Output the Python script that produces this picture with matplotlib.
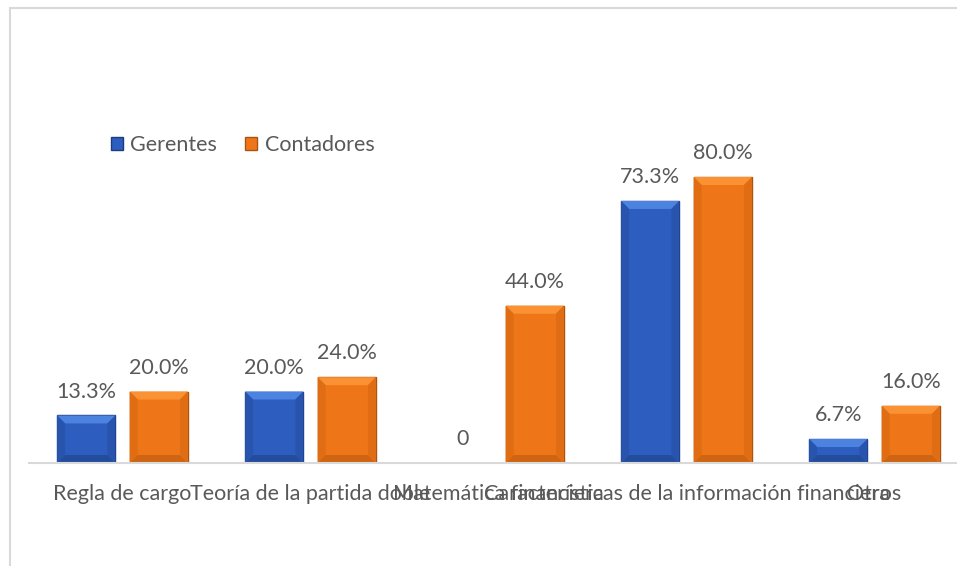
import numpy as np
import matplotlib
matplotlib.use('Agg')
import matplotlib.pyplot as plt
from matplotlib.patches import Rectangle, Polygon

plt.rcParams['font.family'] = ['Lato', 'DejaVu Sans']

# datos
categorias = ['Regla de cargo', 'Teoría de la partida doble', 'Matemática financiera',
              'Características de la información financiera', 'Otros']
gerentes = [13.3, 20.0, 0.0, 73.3, 6.7]
contadores = [20.0, 24.0, 44.0, 80.0, 16.0]
etiquetas_gerentes = ['13.3%', '20.0%', '0', '73.3%', '6.7%']
etiquetas_contadores = ['20.0%', '24.0%', '44.0%', '80.0%', '16.0%']

W, H = 957, 566
fig = plt.figure(figsize=(W / 100, H / 100), dpi=100)

# marco gris del grafico
fig.patches.append(Rectangle((10 / W, -0.1), 1.2, 1 - 8 / H + 0.1, transform=fig.transFigure,
                             fill=False, edgecolor='#d9d9d9', linewidth=1.5))

ax = fig.add_axes([28.5 / W, 103 / H, 1 - 28.5 / W, 1 - 103 / H - 40 / H])
paso = 188.0
px_y = 3.575  # pixeles por punto porcentual
ax.set_xlim(-0.5, -0.5 + (W - 28.5) / paso)
ax.set_ylim(0, 423 / px_y)

x = np.arange(len(categorias))
ancho = 0.31
desp = 0.193
azul, azul_borde = '#2D5DBE', '#1C3C82'
naranja, naranja_borde = '#EE7618', '#A9550E'

b1 = ax.bar(x - desp, gerentes, ancho, color=azul, edgecolor=azul_borde, linewidth=1, label='Gerentes')
b2 = ax.bar(x + desp, contadores, ancho, color=naranja, edgecolor=naranja_borde, linewidth=1, label='Contadores')


# efecto biselado sobre cada barra
def bisel(barras, claro, oscuro, lado):
    bx = 8 / paso
    by = 8 / px_y
    for r in barras:
        x0, y0 = r.get_x(), r.get_y()
        x1, y1 = x0 + r.get_width(), y0 + r.get_height()
        if r.get_height() <= 0:
            continue
        b = min(by, r.get_height() / 2)
        caras = [
            ([(x0, y1), (x1, y1), (x1 - bx, y1 - b), (x0 + bx, y1 - b)], claro),
            ([(x0, y0), (x1, y0), (x1 - bx, y0 + b), (x0 + bx, y0 + b)], oscuro),
            ([(x0, y0), (x0, y1), (x0 + bx, y1 - b), (x0 + bx, y0 + b)], lado),
            ([(x1, y0), (x1, y1), (x1 - bx, y1 - b), (x1 - bx, y0 + b)], lado),
        ]
        for pts, c in caras:
            ax.add_patch(Polygon(pts, closed=True, facecolor=c, edgecolor='none', zorder=2.5))


bisel(b1, '#4C82E0', '#244C9C', '#2854AE')
bisel(b2, '#FA9233', '#CF6412', '#E06D14')

gris = '#595959'
ax.bar_label(b1, labels=etiquetas_gerentes, padding=10, fontsize=15.5, color=gris)
ax.bar_label(b2, labels=etiquetas_contadores, padding=10, fontsize=15.5, color=gris)

ax.set_xticks(x)
ax.set_xticklabels(categorias, fontsize=15.5, color=gris)
ax.tick_params(axis='x', length=0, pad=15)
ax.set_yticks([])
for s in ['top', 'right', 'left']:
    ax.spines[s].set_visible(False)
ax.spines['bottom'].set_color('#d9d9d9')
ax.spines['bottom'].set_linewidth(1.5)

fig.legend(loc='center left', bbox_to_anchor=(111 / W, 1 - 145 / H), ncol=2, frameon=False,
           fontsize=15.5, labelcolor=gris, handlelength=0.55, handleheight=0.55,
           handletextpad=0.35, columnspacing=1.3, borderpad=0, borderaxespad=0)

fig.savefig('out.png', dpi=100)
